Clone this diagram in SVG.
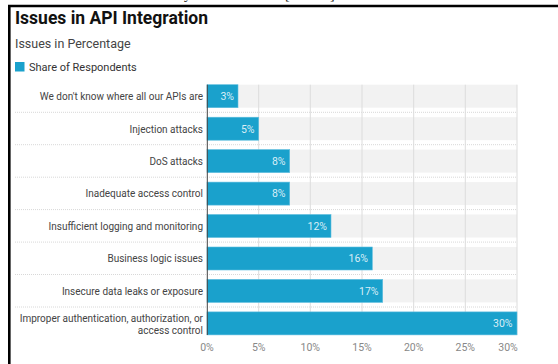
<svg xmlns="http://www.w3.org/2000/svg" width="558" height="364" viewBox="0 0 558 364">
  <defs>
    <style>
      text { font-family: Roboto, "Liberation Sans", sans-serif; }
      .title { font-size: 17.5px; font-weight: bold; fill: #111; }
      .sub { font-size: 12.5px; fill: #444; }
      .leg { font-size: 11px; fill: #333; }
      .cat { font-size: 10px; fill: #444; text-anchor: end; }
      .val { font-size: 10.5px; fill: #d9eef7; text-anchor: end; }
      .tick { font-size: 10.5px; fill: #888; text-anchor: middle; }
      .band { fill: #f2f2f2; }
      .bar { fill: #1aa1cc; stroke: #5fbfe0; stroke-width: 0.6; }
      .grid { stroke: #dcdcdc; stroke-width: 1; }
      .sep { stroke: #d8d8d8; stroke-width: 1; stroke-dasharray: 1 1; }
      .frame { stroke: #000; stroke-width: 2.6; fill: none; }
      .frag { font-family: "Liberation Serif", serif; font-size: 14px; fill: #111; }
    </style>
    <clipPath id="topClip"><rect x="0" y="0" width="558" height="4.5"/></clipPath>
  </defs>

  <rect width="558" height="364" fill="#fff"/>

  <!-- caption fragments cut by the top edge -->
  <g clip-path="url(#topClip)">
    <text class="frag" x="184" y="-1">y</text>
    <text class="frag" x="285" y="-1">[</text>
    <text class="frag" x="330" y="-1">]</text>
  </g>

  <!-- frame -->
  <path class="frame" d="M9.3 364 V6 H558"/>

  <!-- header -->
  <g id="header">
    <text class="title" x="15" y="23.5">Issues in API Integration</text>
    <text class="sub" x="15" y="48">Issues in Percentage</text>
  </g>
  <g id="legend">
    <rect x="15" y="62" width="9.5" height="9.5" fill="#1aa1cc"/>
    <text class="leg" x="29" y="70.5">Share of Respondents</text>
  </g>

  <!-- row backgrounds -->
  <g id="bands">
    <rect class="band" x="207" y="84.7" width="310" height="23"/>
    <rect class="band" x="207" y="117.2" width="310" height="23"/>
    <rect class="band" x="207" y="149.6" width="310" height="23"/>
    <rect class="band" x="207" y="182.1" width="310" height="23"/>
    <rect class="band" x="207" y="214.5" width="310" height="23"/>
    <rect class="band" x="207" y="247" width="310" height="23"/>
    <rect class="band" x="207" y="279.4" width="310" height="23"/>
    <rect class="band" x="207" y="311.9" width="310" height="23"/>
  </g>

  <!-- row separators -->
  <g id="separators">
    <line class="sep" x1="15" y1="112.3" x2="517" y2="112.3"/>
    <line class="sep" x1="15" y1="144.7" x2="517" y2="144.7"/>
    <line class="sep" x1="15" y1="177.2" x2="517" y2="177.2"/>
    <line class="sep" x1="15" y1="209.6" x2="517" y2="209.6"/>
    <line class="sep" x1="15" y1="242.1" x2="517" y2="242.1"/>
    <line class="sep" x1="15" y1="274.5" x2="517" y2="274.5"/>
    <line class="sep" x1="15" y1="307" x2="517" y2="307"/>
  </g>

  <!-- gridlines -->
  <g id="gridlines">
    <line class="grid" x1="258.7" y1="84.7" x2="258.7" y2="335"/>
    <line class="grid" x1="310.3" y1="84.7" x2="310.3" y2="335"/>
    <line class="grid" x1="362" y1="84.7" x2="362" y2="335"/>
    <line class="grid" x1="413.7" y1="84.7" x2="413.7" y2="335"/>
    <line class="grid" x1="465.3" y1="84.7" x2="465.3" y2="335"/>
    <line class="grid" x1="517" y1="84.7" x2="517" y2="335"/>
  </g>

  <!-- bars -->
  <g id="bar-apis">
    <rect class="bar" x="207" y="84.7" width="31" height="23"/>
    <text class="val" x="234" y="100">3%</text>
    <text class="cat" x="203" y="100">We don't know where all our APIs are</text>
  </g>
  <g id="bar-injection">
    <rect class="bar" x="207" y="117.2" width="51.7" height="23"/>
    <text class="val" x="254.5" y="132.5">5%</text>
    <text class="cat" x="203" y="132.5">Injection attacks</text>
  </g>
  <g id="bar-dos">
    <rect class="bar" x="207" y="149.6" width="82.7" height="23"/>
    <text class="val" x="285.5" y="165">8%</text>
    <text class="cat" x="203" y="165">DoS attacks</text>
  </g>
  <g id="bar-access">
    <rect class="bar" x="207" y="182.1" width="82.7" height="23"/>
    <text class="val" x="285.5" y="197.4">8%</text>
    <text class="cat" x="203" y="197.4">Inadequate access control</text>
  </g>
  <g id="bar-logging">
    <rect class="bar" x="207" y="214.5" width="124" height="23"/>
    <text class="val" x="327" y="229.8">12%</text>
    <text class="cat" x="203" y="229.8">Insufficient logging and monitoring</text>
  </g>
  <g id="bar-business">
    <rect class="bar" x="207" y="247" width="165.3" height="23"/>
    <text class="val" x="368" y="262.3">16%</text>
    <text class="cat" x="203" y="262.3">Business logic issues</text>
  </g>
  <g id="bar-leaks">
    <rect class="bar" x="207" y="279.4" width="175.7" height="23"/>
    <text class="val" x="378.5" y="294.7">17%</text>
    <text class="cat" x="203" y="294.7">Insecure data leaks or exposure</text>
  </g>
  <g id="bar-auth">
    <rect class="bar" x="207" y="311.9" width="310" height="23"/>
    <text class="val" x="512.5" y="327.2">30%</text>
    <text class="cat" x="203" y="321.8">Improper authentication, authorization, or</text>
    <text class="cat" x="203" y="334">access control</text>
  </g>

  <!-- axis -->
  <line x1="207.3" y1="84.7" x2="207.3" y2="335" stroke="#444" stroke-width="1"/>
  <g id="x-axis">
    <text class="tick" x="207" y="350.5">0%</text>
    <text class="tick" x="258.7" y="350.5">5%</text>
    <text class="tick" x="310.3" y="350.5">10%</text>
    <text class="tick" x="362" y="350.5">15%</text>
    <text class="tick" x="413.7" y="350.5">20%</text>
    <text class="tick" x="465.3" y="350.5">25%</text>
    <text class="tick" x="508" y="350.5">30%</text>
  </g>
</svg>
